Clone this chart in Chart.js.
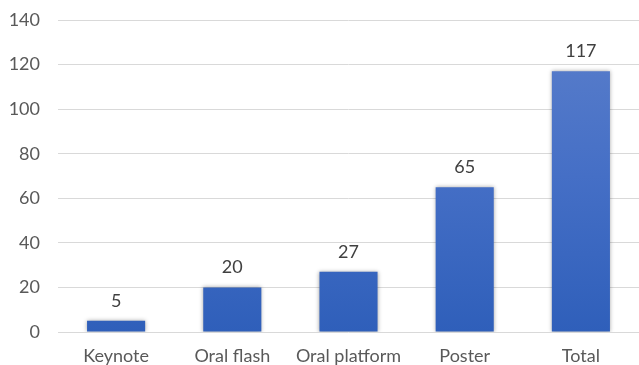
<!DOCTYPE html>
<html>
<head>
<meta charset="utf-8">
<script src="https://cdn.jsdelivr.net/npm/chart.js@4/dist/chart.umd.min.js"></script>
<style>
  html, body { margin: 0; padding: 0; background: #ffffff; }
  #wrap { width: 639px; height: 365px; position: relative; }
</style>
</head>
<body>
<div id="wrap"><canvas id="c"></canvas></div>
<script>
const categories = ['Keynote', 'Oral flash', 'Oral platform', 'Poster', 'Total'];
const counts = [5, 20, 27, 65, 117];
const yMin = 0, yMax = 140, yStep = 20;

const FONT = 'Lato, "Open Sans", "Liberation Sans", sans-serif';
const FONT_SIZE = 18;

// Vertical blue gradient for the bars, lighter at the top
function barFill(context) {
  const chart = context.chart;
  const area = chart.chartArea;
  if (!area) return '#4472c4';
  const g = chart.ctx.createLinearGradient(0, area.top, 0, area.bottom);
  g.addColorStop(0, '#5b7fcb');
  g.addColorStop(0.5, '#456fc6');
  g.addColorStop(1, '#2f5fba');
  return g;
}

// Soft shadow behind the bars
const barShadow = {
  id: 'barShadow',
  beforeDatasetDraw(chart) {
    const ctx = chart.ctx;
    ctx.save();
    ctx.shadowColor = 'rgba(0,0,0,0.35)';
    ctx.shadowBlur = 4;
    ctx.shadowOffsetX = 0;
    ctx.shadowOffsetY = 0;
  },
  afterDatasetDraw(chart) {
    chart.ctx.restore();
  }
};

// Value labels above each bar
const valueLabels = {
  id: 'valueLabels',
  afterDatasetsDraw(chart) {
    const ctx = chart.ctx;
    const meta = chart.getDatasetMeta(0);
    ctx.save();
    ctx.font = FONT_SIZE + 'px ' + FONT;
    ctx.fillStyle = '#404040';
    ctx.textAlign = 'center';
    ctx.textBaseline = 'alphabetic';
    meta.data.forEach((bar, i) => {
      ctx.fillText(String(counts[i]), bar.x, bar.y - 14);
    });
    ctx.restore();
  }
};

new Chart(document.getElementById('c'), {
  type: 'bar',
  data: {
    labels: categories,
    datasets: [{
      data: counts,
      backgroundColor: barFill,
      borderWidth: 0,
      barPercentage: 1,
      categoryPercentage: 0.5
    }]
  },
  options: {
    responsive: true,
    maintainAspectRatio: false,
    animation: false,
    layout: { padding: { top: 20, right: 0, bottom: 0, left: 0 } },
    plugins: { legend: { display: false }, tooltip: { enabled: false } },
    scales: {
      x: {
        grid: { display: false },
        border: { display: false },
        ticks: { color: '#595959', font: { family: FONT, size: FONT_SIZE }, padding: 5, maxRotation: 0 },
        afterFit(scale) { scale.height = 33; }
      },
      y: {
        min: yMin, max: yMax,
        grid: { color: '#d9d9d9', lineWidth: 1, drawTicks: false },
        border: { display: false },
        ticks: { stepSize: yStep, color: '#595959', font: { family: FONT, size: FONT_SIZE }, padding: 18 },
        afterFit(scale) {
          scale.width = 58;
          scale.paddingTop = 0;
          scale.paddingBottom = 0;
        }
      }
    }
  },
  plugins: [barShadow, valueLabels]
});
</script>
</body>
</html>
